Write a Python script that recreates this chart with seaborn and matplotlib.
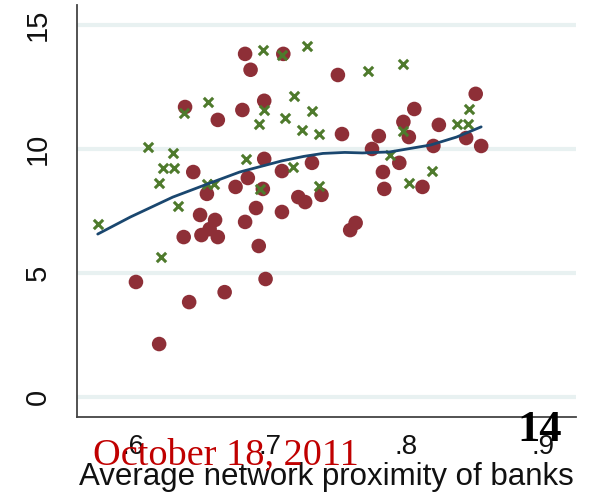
import numpy as np
import pandas as pd
import seaborn as sns
import matplotlib
matplotlib.use("Agg")
import matplotlib.pyplot as plt

# red circles (one group)
red_x = [0.682, 0.710, 0.686, 0.750, 0.851, 0.696, 0.638, 0.806, 0.680, 0.662,
         0.798, 0.824, 0.753, 0.780, 0.802, 0.844, 0.820, 0.855, 0.775, 0.696,
         0.731, 0.795, 0.644, 0.709, 0.783, 0.684, 0.695, 0.675, 0.784, 0.812,
         0.654, 0.738, 0.721, 0.726, 0.690, 0.709, 0.649, 0.660, 0.682, 0.763,
         0.759, 0.656, 0.637, 0.650, 0.662, 0.692, 0.697, 0.602, 0.667, 0.641,
         0.619]
red_y = [13.83, 13.83, 13.19, 12.98, 12.22, 11.94, 11.69, 11.61, 11.57, 11.17,
         11.09, 10.97, 10.60, 10.52, 10.48, 10.44, 10.12, 10.12, 10.00, 9.60,
         9.44, 9.44, 9.07, 9.11, 9.07, 8.83, 8.39, 8.47, 8.39, 8.47,
         8.19, 8.15, 8.06, 7.86, 7.62, 7.46, 7.34, 7.14, 7.06, 7.02,
         6.73, 6.77, 6.45, 6.53, 6.45, 6.09, 4.76, 4.64, 4.23, 3.83,
         2.14]

# green crosses (other group)
grn_x = [0.574, 0.611, 0.629, 0.622, 0.630, 0.619, 0.633, 0.620, 0.637, 0.655,
         0.654, 0.659, 0.683, 0.692, 0.696, 0.695, 0.709, 0.711, 0.718, 0.693,
         0.717, 0.727, 0.724, 0.731, 0.736, 0.736, 0.772, 0.788, 0.798, 0.798,
         0.802, 0.819, 0.837, 0.845, 0.846]
grn_y = [6.98, 10.08, 9.84, 9.23, 9.23, 8.63, 7.70, 5.65, 11.45, 11.90,
         8.59, 8.59, 9.60, 11.01, 11.57, 13.99, 13.79, 11.25, 12.14, 8.39,
         9.27, 14.15, 10.77, 11.53, 10.60, 8.51, 13.15, 9.76, 13.43, 10.73,
         8.63, 9.11, 11.01, 11.01, 11.61]

# smoothed fit line
fit_x = [0.574, 0.598, 0.629, 0.655, 0.678, 0.709, 0.725, 0.739, 0.755, 0.768, 0.788, 0.818, 0.837, 0.855]
fit_y = [6.57, 7.26, 8.06, 8.60, 9.07, 9.52, 9.70, 9.82, 9.86, 9.84, 9.88, 10.16, 10.48, 10.89]

xticks = [0.6, 0.7, 0.8, 0.9]
xtick_labels = [".6", ".7", ".8", ".9"]
yticks = [0, 5, 10, 15]

sns.set_style("white")
plt.rcParams['font.family'] = ['Liberation Sans', 'DejaVu Sans']
plt.rcParams['text.color'] = '#111111'
plt.rcParams['axes.labelcolor'] = '#111111'
plt.rcParams['xtick.labelcolor'] = '#111111'
plt.rcParams['ytick.labelcolor'] = '#111111'

fig = plt.figure(figsize=(5.95, 4.95), dpi=100)
ax = fig.add_axes([77/595, 78/495, 499/595, 412/495])

red = pd.DataFrame({"x": red_x, "y": red_y})
grn = pd.DataFrame({"x": grn_x, "y": grn_y})
fit = pd.DataFrame({"x": fit_x, "y": fit_y})

sns.scatterplot(data=red, x="x", y="y", ax=ax, marker="o", s=110,
                color="#8e2f37", edgecolor="none", zorder=3)
sns.scatterplot(data=grn, x="x", y="y", ax=ax, marker="x", s=45,
                color="#4e7a2c", linewidth=2.2, zorder=4)
sns.lineplot(data=fit, x="x", y="y", ax=ax, color="#1a476f", lw=2, zorder=5)

ax.set_xlim(0.5588, 0.9245)
ax.set_ylim(-0.8, 15.8)
ax.set_xticks(xticks)
ax.set_xticklabels(xtick_labels)
ax.set_yticks(yticks)
ax.set_yticklabels([str(v) for v in yticks], rotation=90, va="center")
ax.tick_params(axis="y", length=11, width=1.3, color="#333333", labelsize=21, pad=7)
ax.tick_params(axis="x", length=8, width=1.3, color="#333333", labelsize=20, pad=4)
ax.yaxis.grid(True, color="#e8f1f1", lw=3)
ax.set_axisbelow(True)
sns.despine(ax=ax)
for side in ["left", "bottom"]:
    ax.spines[side].set_color("#444444")
    ax.spines[side].set_linewidth(1.3)

ax.set_ylabel("")
ax.set_xlabel("Average network proximity of banks", fontsize=22.5, labelpad=2)

# slide overlay texts
fig.text(0.156, 0.063, "October 18, 2011", color="#c00000", fontsize=27.5,
         family=["Liberation Serif", "DejaVu Serif"], zorder=10)
fig.text(0.87, 0.11, "14", color="black", fontsize=32, fontweight="bold",
         family=["Liberation Serif", "DejaVu Serif"], zorder=10)

fig.savefig("out.png", dpi=100)
